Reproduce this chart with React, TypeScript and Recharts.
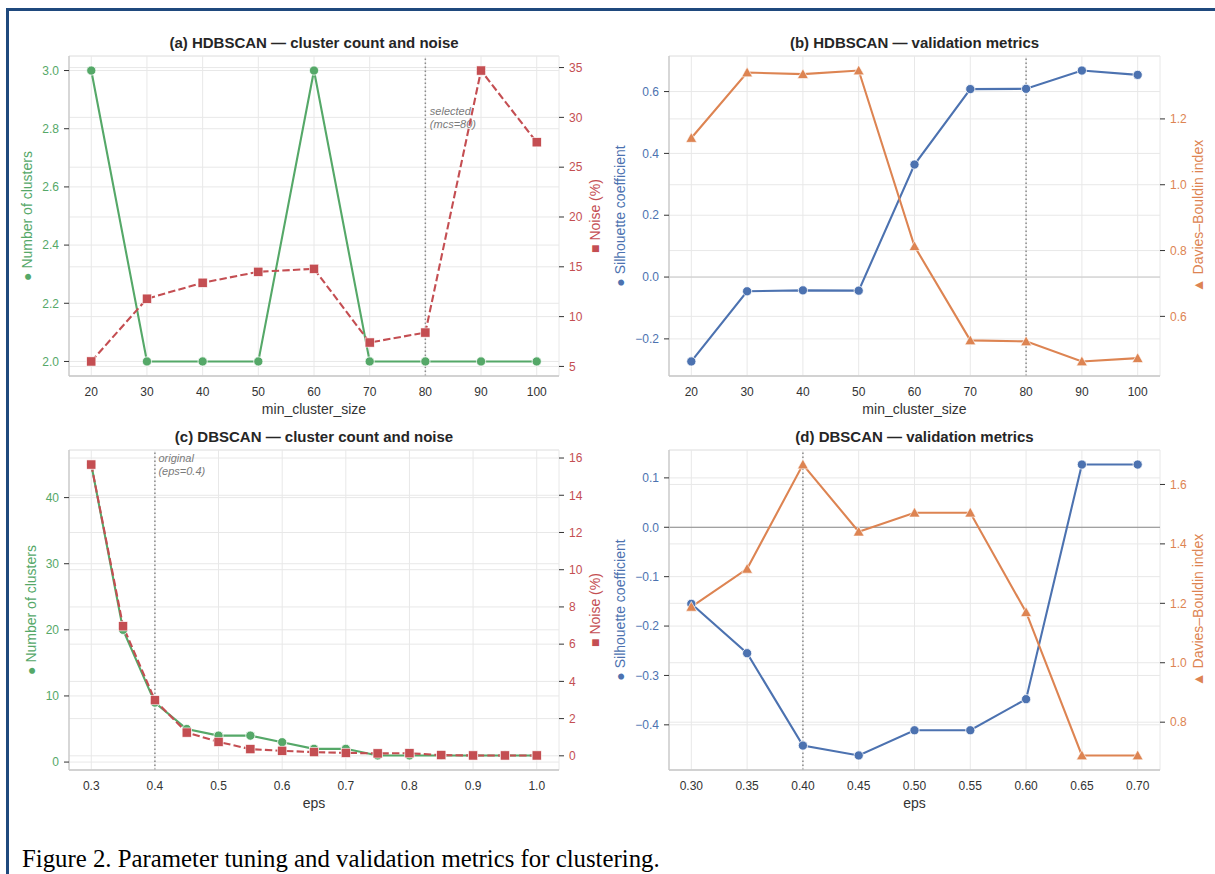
import React from "react";
import { ComposedChart, Line, XAxis, YAxis, CartesianGrid, ReferenceLine } from "recharts";

const GREEN = "#55a868";
const RED = "#c44e52";
const BLUE = "#4c72b0";
const ORANGE = "#dd8452";

// HDBSCAN sweep over min_cluster_size
const mcsValues = [20, 30, 40, 50, 60, 70, 80, 90, 100];
const hdbClusters = [3, 2, 2, 2, 3, 2, 2, 2, 2];
const hdbNoise = [5.5, 11.8, 13.4, 14.5, 14.8, 7.4, 8.4, 34.7, 27.5];
const hdbSilhouette = [-0.273, -0.046, -0.043, -0.044, 0.364, 0.608, 0.609, 0.668, 0.654];
const hdbDaviesBouldin = [1.142, 1.341, 1.336, 1.347, 0.813, 0.527, 0.524, 0.463, 0.473];

// DBSCAN sweep over eps
const epsValues = [0.3, 0.35, 0.4, 0.45, 0.5, 0.55, 0.6, 0.65, 0.7, 0.75, 0.8, 0.85, 0.9, 0.95, 1.0];
const dbsClusters = [45, 20, 9, 5, 4, 4, 3, 2, 2, 1, 1, 1, 1, 1, 1];
const dbsNoise = [15.65, 6.96, 2.99, 1.25, 0.75, 0.36, 0.27, 0.2, 0.16, 0.13, 0.14, 0.04, 0.02, 0.02, 0.02];
const epsMetricValues = [0.3, 0.35, 0.4, 0.45, 0.5, 0.55, 0.6, 0.65, 0.7];
const dbsSilhouette = [-0.155, -0.255, -0.442, -0.462, -0.411, -0.411, -0.348, 0.127, 0.127];
const dbsDaviesBouldin = [1.188, 1.316, 1.667, 1.441, 1.505, 1.505, 1.17, 0.688, 0.688];

// tick labels
const mcsTicks = [20, 30, 40, 50, 60, 70, 80, 90, 100];
const epsTicks = [0.3, 0.4, 0.5, 0.6, 0.7, 0.8, 0.9, 1.0];
const epsMetricTicks = [0.3, 0.35, 0.4, 0.45, 0.5, 0.55, 0.6, 0.65, 0.7];
const clusterTicksA = [2.0, 2.2, 2.4, 2.6, 2.8, 3.0];
const noiseTicksA = [5, 10, 15, 20, 25, 30, 35];
const silTicksB = [-0.2, 0.0, 0.2, 0.4, 0.6];
const dbTicksB = [0.6, 0.8, 1.0, 1.2];
const clusterTicksC = [0, 10, 20, 30, 40];
const noiseTicksC = [0, 2, 4, 6, 8, 10, 12, 14, 16];
const silTicksD = [-0.4, -0.3, -0.2, -0.1, 0.0, 0.1];
const dbTicksD = [0.8, 1.0, 1.2, 1.4, 1.6];

const zip = (xs: number[], a: number[], b: number[]) => xs.map((x, i) => ({ x, a: a[i], b: b[i] }));

// matplotlib-like 5% margins
const pad = (vals: number[]) => {
  const lo = Math.min(...vals);
  const hi = Math.max(...vals);
  const p = (hi - lo) * 0.05;
  return [lo - p, hi + p];
};

const minus = (s: string) => s.replace("-", "\u2212");
const f0 = (v: number) => minus(String(v));
const f1 = (v: number) => minus(v.toFixed(1));
const f2 = (v: number) => minus(v.toFixed(2));

const circleDot = (color: string) => (p: any) => {
  if (p.cx == null || p.cy == null) return <g key={`c${p.index}`} />;
  return <circle key={`c${p.index}`} cx={p.cx} cy={p.cy} r={4.6} fill={color} stroke="#fff" strokeWidth={0.8} />;
};
const squareDot = (color: string) => (p: any) => {
  if (p.cx == null || p.cy == null) return <g key={`s${p.index}`} />;
  return <rect key={`s${p.index}`} x={p.cx - 4.6} y={p.cy - 4.6} width={9.2} height={9.2} fill={color} stroke="#fff" strokeWidth={0.6} />;
};
const triangleDot = (color: string) => (p: any) => {
  if (p.cx == null || p.cy == null) return <g key={`t${p.index}`} />;
  const { cx, cy } = p;
  const s = 5.4;
  return (
    <path
      key={`t${p.index}`}
      d={`M${cx},${cy - s} L${cx + s},${cy + s * 0.8} L${cx - s},${cy + s * 0.8} Z`}
      fill={color}
      stroke="#fff"
      strokeWidth={0.6}
    />
  );
};

type Side = {
  color: string;
  label: string;
  ticks: number[];
  fmt: (v: number) => string;
  domain: number[];
  dot: (p: any) => any;
  dash?: string;
  labelX: number;
};

type PanelProps = {
  left: number;
  top: number;
  width: number;
  rightW: number;
  marginRight: number;
  title: string;
  xLabel: string;
  data: any[];
  xDomain: number[];
  xTicks: number[];
  xFmt: (v: number) => string;
  l: Side;
  r: Side;
  refX: number;
  refText?: string[];
  refDx?: number;
  refDy?: number;
  zeroColor?: string;
};

const H = 420;
const MT = 56;
const LEFT_W = 69;
const XAXIS_H = 44;
const TICK_FS = 12;
const LABEL_FS = 14;

function Panel(p: PanelProps) {
  const plotW = p.width - LEFT_W - p.rightW - p.marginRight;
  const yLabel = (s: Side) => ({
    content: (props: any) => {
      const vb = props.viewBox || {};
      const x = vb.x + s.labelX;
      const y = vb.y + vb.height / 2;
      return (
        <text x={x} y={y} transform={`rotate(-90 ${x} ${y})`} textAnchor="middle" dominantBaseline="central" fill={s.color} fontSize={LABEL_FS}>
          {s.label}
        </text>
      );
    },
  });
  return (
    <div style={{ position: "absolute", left: p.left, top: p.top, width: p.width, height: H }}>
      <div
        style={{
          position: "absolute",
          left: LEFT_W,
          width: plotW,
          top: MT - 23,
          height: 20,
          lineHeight: "20px",
          textAlign: "center",
          fontWeight: "bold",
          fontSize: 15,
          color: "#262626",
          whiteSpace: "nowrap",
        }}
      >
        {p.title}
      </div>
      <ComposedChart width={p.width} height={H} data={p.data} margin={{ top: MT, right: p.marginRight, bottom: 0, left: 0 }}>
        <CartesianGrid yAxisId="left" stroke="#e8e8e8" strokeWidth={1} />
        <CartesianGrid yAxisId="right" vertical={false} stroke="#e8e8e8" strokeWidth={1} />
        <XAxis
          dataKey="x"
          type="number"
          domain={p.xDomain}
          ticks={p.xTicks}
          tickFormatter={p.xFmt}
          height={XAXIS_H}
          tickLine={false}
          tickSize={6}
          tickMargin={5}
          axisLine={{ stroke: "#c8c8c8", strokeWidth: 1.3 }}
          tick={{ fill: "#333", fontSize: TICK_FS }}
          label={{
            content: (props: any) => {
              const vb = props.viewBox || {};
              return (
                <text x={vb.x + vb.width / 2} y={vb.y + 33.3} textAnchor="middle" dominantBaseline="central" fill="#333" fontSize={LABEL_FS}>
                  {p.xLabel}
                </text>
              );
            },
          }}
        />
        <YAxis
          yAxisId="left"
          orientation="left"
          width={LEFT_W}
          type="number"
          domain={p.l.domain}
          ticks={p.l.ticks}
          tickFormatter={p.l.fmt}
          allowDataOverflow
          tickSize={5}
          tickMargin={5}
          tickLine={{ stroke: "#333", strokeWidth: 1 }}
          axisLine={{ stroke: "#c8c8c8", strokeWidth: 1.3 }}
          tick={{ fill: p.l.color, fontSize: TICK_FS }}
          label={yLabel(p.l)}
        />
        <YAxis
          yAxisId="right"
          orientation="right"
          width={p.rightW}
          type="number"
          domain={p.r.domain}
          ticks={p.r.ticks}
          tickFormatter={p.r.fmt}
          allowDataOverflow
          tickSize={5}
          tickMargin={5}
          tickLine={{ stroke: "#333", strokeWidth: 1 }}
          axisLine={false}
          tick={{ fill: p.r.color, fontSize: TICK_FS }}
          label={yLabel(p.r)}
        />
        {p.zeroColor && <ReferenceLine yAxisId="left" y={0} stroke={p.zeroColor} strokeWidth={1} />}
        <ReferenceLine
          yAxisId="left"
          x={p.refX}
          stroke="#8a8a8a"
          strokeWidth={1.5}
          strokeDasharray="1.5 2.5"
          label={
            p.refText
              ? {
                  content: (props: any) => {
                    const vb = props.viewBox || {};
                    const x = vb.x + (p.refDx || 4);
                    const y = vb.y + (p.refDy || 0);
                    return (
                      <text x={x} y={y} fill="#7a7a7a" fontSize={11} fontStyle="italic" dominantBaseline="central">
                        <tspan x={x} dy={0}>{p.refText![0]}</tspan>
                        <tspan x={x} dy={12.7}>{p.refText![1]}</tspan>
                      </text>
                    );
                  },
                }
              : undefined
          }
        />
        <Line
          yAxisId="left"
          dataKey="a"
          type="linear"
          stroke={p.l.color}
          strokeWidth={2.1}
          strokeDasharray={p.l.dash}
          dot={p.l.dot}
          activeDot={false}
          isAnimationActive={false}
        />
        <Line
          yAxisId="right"
          dataKey="b"
          type="linear"
          stroke={p.r.color}
          strokeWidth={2.1}
          strokeDasharray={p.r.dash}
          dot={p.r.dot}
          activeDot={false}
          isAnimationActive={false}
        />
      </ComposedChart>
    </div>
  );
}

export default function App() {
  return (
    <div
      style={{
        position: "absolute",
        left: 0,
        top: 0,
        width: 1215,
        height: 874,
        background: "#fff",
        overflow: "hidden",
        fontFamily: "'Liberation Sans', Arial, Helvetica, sans-serif",
      }}
    >
      <div style={{ position: "absolute", left: 6, top: 8, width: 1209, height: 3, background: "#1f497d" }} />
      <div style={{ position: "absolute", left: 6, top: 8, width: 3, height: 866, background: "#1f497d" }} />

      <Panel
        left={0}
        top={0}
        width={612}
        rightW={41}
        marginRight={12}
        title="(a) HDBSCAN — cluster count and noise"
        xLabel="min_cluster_size"
        data={zip(mcsValues, hdbClusters, hdbNoise)}
        xDomain={pad(mcsValues)}
        xTicks={mcsTicks}
        xFmt={f0}
        l={{ color: GREEN, label: "● Number of clusters", ticks: clusterTicksA, fmt: f1, domain: pad(hdbClusters), dot: circleDot(GREEN), labelX: 27 }}
        r={{ color: RED, label: "■ Noise (%)", ticks: noiseTicksA, fmt: f0, domain: pad(hdbNoise), dot: squareDot(RED), dash: "7.4 3.2", labelX: 36 }}
        refX={80}
        refText={["selected", "(mcs=80)"]}
        refDx={4.5}
        refDy={55}
      />

      <Panel
        left={600}
        top={0}
        width={615}
        rightW={50}
        marginRight={5}
        title="(b) HDBSCAN — validation metrics"
        xLabel="min_cluster_size"
        data={zip(mcsValues, hdbSilhouette, hdbDaviesBouldin)}
        xDomain={pad(mcsValues)}
        xTicks={mcsTicks}
        xFmt={f0}
        l={{ color: BLUE, label: "● Silhouette coefficient", ticks: silTicksB, fmt: f1, domain: pad(hdbSilhouette), dot: circleDot(BLUE), labelX: 19.6 }}
        r={{ color: ORANGE, label: "▲ Davies–Bouldin index", ticks: dbTicksB, fmt: f1, domain: pad(hdbDaviesBouldin), dot: triangleDot(ORANGE), labelX: 38 }}
        refX={80}
        zeroColor="#c8c8c8"
      />

      <Panel
        left={0}
        top={394}
        width={612}
        rightW={41}
        marginRight={12}
        title="(c) DBSCAN — cluster count and noise"
        xLabel="eps"
        data={zip(epsValues, dbsClusters, dbsNoise)}
        xDomain={pad(epsValues)}
        xTicks={epsTicks}
        xFmt={f1}
        l={{ color: GREEN, label: "● Number of clusters", ticks: clusterTicksC, fmt: f0, domain: pad(dbsClusters), dot: circleDot(GREEN), labelX: 30.6 }}
        r={{ color: RED, label: "■ Noise (%)", ticks: noiseTicksC, fmt: f0, domain: pad(dbsNoise), dot: squareDot(RED), dash: "7.4 3.2", labelX: 36 }}
        refX={0.4}
        refText={["original", "(eps=0.4)"]}
        refDx={3.5}
        refDy={8.3}
      />

      <Panel
        left={600}
        top={394}
        width={615}
        rightW={50}
        marginRight={5}
        title="(d) DBSCAN — validation metrics"
        xLabel="eps"
        data={zip(epsMetricValues, dbsSilhouette, dbsDaviesBouldin)}
        xDomain={pad(epsMetricValues)}
        xTicks={epsMetricTicks}
        xFmt={f2}
        l={{ color: BLUE, label: "● Silhouette coefficient", ticks: silTicksD, fmt: f1, domain: pad(dbsSilhouette), dot: circleDot(BLUE), labelX: 19.6 }}
        r={{ color: ORANGE, label: "▲ Davies–Bouldin index", ticks: dbTicksD, fmt: f1, domain: pad(dbsDaviesBouldin), dot: triangleDot(ORANGE), labelX: 38 }}
        refX={0.4}
        zeroColor="#8a8a8a"
      />

      <div
        style={{
          position: "absolute",
          left: 22,
          top: 846,
          lineHeight: "25px",
          fontSize: 24.8,
          fontFamily: "'Liberation Serif', 'Times New Roman', serif",
          color: "#000",
          whiteSpace: "nowrap",
        }}
      >
        Figure 2. Parameter tuning and validation metrics for clustering.
      </div>
    </div>
  );
}
